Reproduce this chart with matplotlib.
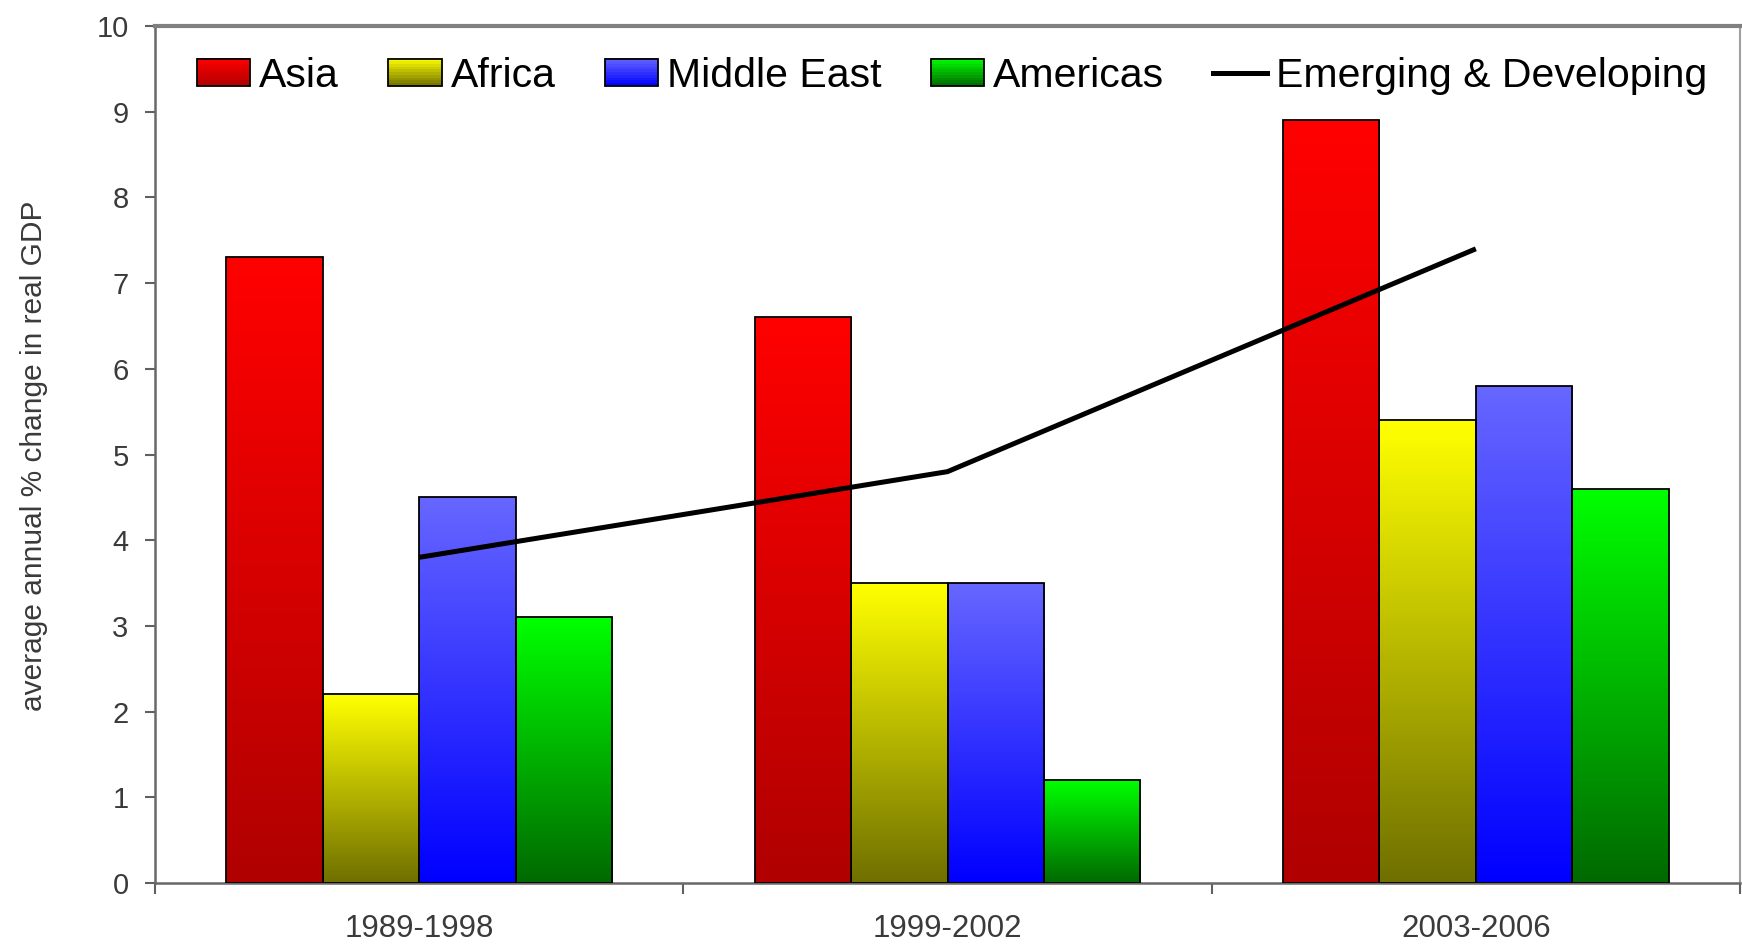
import numpy as np
import matplotlib
matplotlib.use("Agg")
import matplotlib.pyplot as plt
from matplotlib.patches import Rectangle
from matplotlib.legend_handler import HandlerPatch
from matplotlib.colors import to_rgb
from matplotlib.lines import Line2D

plt.rcParams['font.family'] = ['Liberation Sans', 'DejaVu Sans']

categories = ["1989-1998", "1999-2002", "2003-2006"]
series_names = ["Asia", "Africa", "Middle East", "Americas"]
asia = [7.3, 6.6, 8.9]
africa = [2.2, 3.5, 5.4]
middle_east = [4.5, 3.5, 5.8]
americas = [3.1, 1.2, 4.6]
emerging = [3.8, 4.8, 7.4]
line_name = "Emerging & Developing"
yticks = list(range(0, 11))

series_values = [asia, africa, middle_east, americas]
# gradient (top colour, bottom colour)
grad_colors = [("#FF0000", "#B00000"),
               ("#FFFF00", "#707000"),
               ("#6666FF", "#0000FF"),
               ("#00FF00", "#006A00")]

W, H = 1742, 944
fig = plt.figure(figsize=(W / 100, H / 100), dpi=100)
ax = fig.add_axes([155 / W, (944 - 883) / H, (1740 - 155) / W, (883 - 26) / H])

def gradient_array(top, bottom, n=64):
    t = np.linspace(0, 1, n)[:, None]
    c0 = np.array(to_rgb(top))
    c1 = np.array(to_rgb(bottom))
    arr = c0[None, :] * (1 - t) + c1[None, :] * t  # row 0 = top
    return arr[:, None, :]

bw = 0.1825
x = np.arange(len(categories))
for i, (vals, (ct, cb)) in enumerate(zip(series_values, grad_colors)):
    offs = (i - 1.5) * bw
    bars = ax.bar(x + offs, vals, width=bw, facecolor='none',
                  edgecolor='black', linewidth=1.3, zorder=3)
    g = gradient_array(ct, cb)
    for b in bars:
        x0, y0 = b.get_x(), b.get_y()
        w, h = b.get_width(), b.get_height()
        im = ax.imshow(g, extent=[x0, x0 + w, y0, y0 + h], aspect='auto',
                       origin='upper', zorder=2, interpolation='bilinear')
        clip = Rectangle((x0, y0), w, h, transform=ax.transData)
        im.set_clip_path(clip)

ax.plot(x, emerging, color='black', linewidth=3.6, zorder=4,
        solid_capstyle='butt')

ax.set_xlim(-0.5, len(categories) - 0.5)
ax.set_ylim(0, 10)
ax.set_yticks(yticks)
ax.set_yticklabels([str(t) for t in yticks])
ax.set_xticks(x)
ax.set_xticklabels(categories)
ax.set_xticks(np.arange(len(categories) + 1) - 0.5, minor=True)
ax.tick_params(axis='x', which='major', length=0, pad=22, labelsize=22.5,
               labelcolor='#3a3a3a')
ax.tick_params(axis='x', which='minor', length=8, width=1.5, color='#606060',
               direction='out')
ax.tick_params(axis='y', which='major', length=7, width=1.5, color='#606060',
               direction='out', pad=12, labelsize=21, labelcolor='#3a3a3a')

for s in ['left', 'bottom']:
    ax.spines[s].set_color('#686868')
    ax.spines[s].set_linewidth(1.8)
ax.spines['top'].set_color('#808080')
ax.spines['top'].set_linewidth(3)
ax.spines['right'].set_color('#a0a0a0')
ax.spines['right'].set_linewidth(1.5)

fig.text(34 / W, 1 - 456 / H, "average annual % change in real GDP",
         rotation=90, ha='center', va='center', fontsize=21.5, color='#3a3a3a')


class GradientHandler(HandlerPatch):
    def __init__(self, top, bottom, **kw):
        super().__init__(**kw)
        self.top, self.bottom = top, bottom

    def create_artists(self, legend, orig_handle, xdescent, ydescent,
                       width, height, fontsize, trans):
        n = 10
        c0 = np.array(to_rgb(self.top))
        c1 = np.array(to_rgb(self.bottom))
        arts = []
        for k in range(n):
            t = (k + 0.5) / n
            col = c0 * (1 - t) + c1 * t
            yb = -ydescent + height * (1 - (k + 1) / n)
            r = Rectangle((-xdescent, yb), width, height / n + 0.3,
                          facecolor=col, edgecolor='none', transform=trans)
            arts.append(r)
        edge = Rectangle((-xdescent, -ydescent), width, height,
                         facecolor='none', edgecolor='black', linewidth=1.3,
                         transform=trans)
        arts.append(edge)
        return arts


handles = []
hmap = {}
for name, (ct, cb) in zip(series_names, grad_colors):
    p = Rectangle((0, 0), 1, 1, facecolor=ct, label=name)
    handles.append(p)
    hmap[p] = GradientHandler(ct, cb)
ln = Line2D([0], [0], color='black', linewidth=3.6, label=line_name)
handles.append(ln)

ax.legend(handles=handles, loc='upper left', bbox_to_anchor=(0.0265, 0.964),
          ncol=5, frameon=False, fontsize=29.5, handlelength=1.3,
          handleheight=0.66, handletextpad=0.22, columnspacing=1.2,
          borderaxespad=0, borderpad=0, handler_map=hmap)

fig.savefig("out.png", dpi=100)
